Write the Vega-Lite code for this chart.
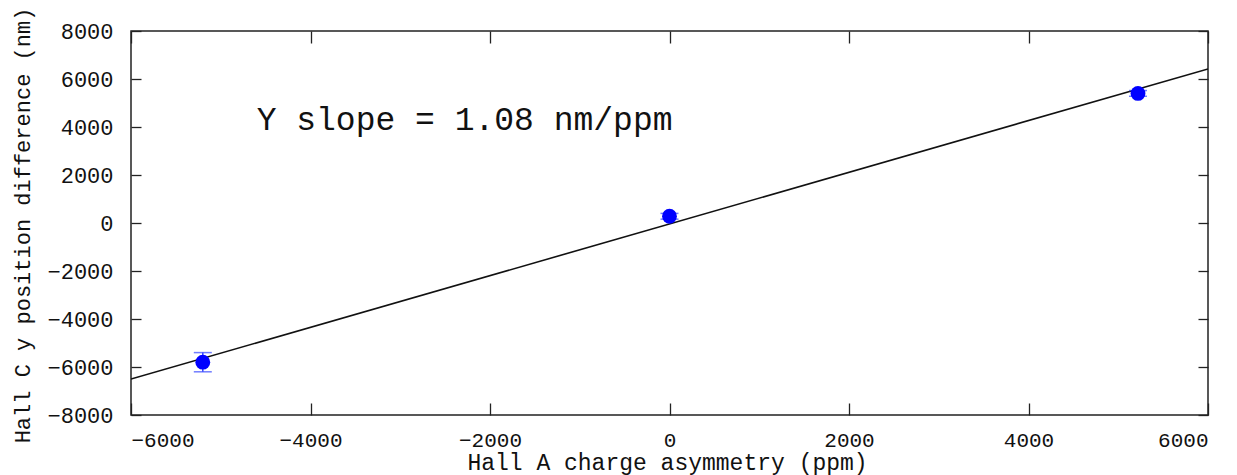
{
  "$schema": "https://vega.github.io/schema/vega-lite/v6.json",
  "width": 1077,
  "height": 384,
  "autosize": "none",
  "padding": {"left": 131, "top": 31, "right": 29, "bottom": 60},
  "background": "white",
  "config": {
    "font": "Liberation Mono",
    "view": {"stroke": "#222222", "strokeWidth": 1.5},
    "axis": {
      "grid": false,
      "domain": false,
      "tickColor": "#222222",
      "tickWidth": 1.3,
      "labelFont": "Liberation Mono",
      "labelFontSize": 22,
      "labelColor": "#111111",
      "titleFont": "Liberation Mono",
      "titleFontWeight": "normal",
      "titleColor": "#111111"
    }
  },
  "datasets": {
    "pts": [
      {"x": -5200, "y": -5800, "err": 400},
      {"x": 0, "y": 280, "err": 120},
      {"x": 5220, "y": 5400, "err": 120}
    ],
    "fit": [
      {"x": -6000, "y": -6500},
      {"x": 6000, "y": 6420}
    ],
    "note": [
      {"x": -4600, "y": 4300, "label": "Y slope = 1.08 nm/ppm"}
    ]
  },
  "layer": [
    {
      "data": {"name": "fit"},
      "mark": {"type": "line", "color": "#111111", "strokeWidth": 1.6, "clip": true},
      "encoding": {
        "x": {"field": "x", "type": "quantitative",
          "scale": {"domain": [-6000, 6000], "nice": false, "zero": false},
          "axis": {"orient": "bottom", "title": "Hall A charge asymmetry (ppm)", "titleFontSize": 23, "titleX": 536, "titleY": 47, "titleBaseline": "middle", "titleAlign": "center", "values": [-6000, -4000, -2000, 0, 2000, 4000, 6000], "format": "d", "tickSize": -12, "labelPadding": 26, "labelFontSize": 21}},
        "y": {"field": "y", "type": "quantitative",
          "scale": {"domain": [-8000, 8000], "nice": false, "zero": false},
          "axis": {"orient": "left", "title": "Hall C y position difference (nm)", "titleFontSize": 22, "titleX": -109, "titleY": 194, "titleAngle": -90, "titleBaseline": "middle", "titleAlign": "center", "values": [-8000, -6000, -4000, -2000, 0, 2000, 4000, 6000, 8000], "format": "d", "tickSize": -10, "labelPadding": 28}}
      }
    },
    {
      "data": {"name": "pts"},
      "transform": [{"calculate": "datum.y - datum.err", "as": "yl"}, {"calculate": "datum.y + datum.err", "as": "yh"}],
      "mark": {"type": "rule", "color": "#3344ff", "strokeWidth": 1.5},
      "encoding": {
        "x": {"field": "x", "type": "quantitative", "axis": {"orient": "top", "title": null, "labels": false, "values": [-6000, -4000, -2000, 0, 2000, 4000, 6000], "tickSize": -12}},
        "y": {"field": "yl", "type": "quantitative", "axis": {"orient": "right", "title": null, "labels": false, "values": [-8000, -6000, -4000, -2000, 0, 2000, 4000, 6000, 8000], "tickSize": -10}},
        "y2": {"field": "yh"}
      }
    },
    {
      "data": {"name": "pts"},
      "transform": [{"fold": ["lo", "hi"]}, {"calculate": "datum.key == 'lo' ? datum.y - datum.err : datum.y + datum.err", "as": "yc"}],
      "mark": {"type": "tick", "color": "#3344ff", "orient": "horizontal", "size": 18, "thickness": 1.5},
      "encoding": {
        "x": {"field": "x", "type": "quantitative", "axis": null},
        "y": {"field": "yc", "type": "quantitative", "axis": null}
      }
    },
    {
      "data": {"name": "pts"},
      "mark": {"type": "circle", "color": "#0000ff", "opacity": 1, "size": 220},
      "encoding": {
        "x": {"field": "x", "type": "quantitative", "axis": null},
        "y": {"field": "y", "type": "quantitative", "axis": null}
      }
    },
    {
      "data": {"name": "note"},
      "mark": {"type": "text", "align": "left", "baseline": "middle", "fontSize": 33, "font": "Liberation Mono", "color": "#111111"},
      "encoding": {
        "x": {"field": "x", "type": "quantitative", "axis": null},
        "y": {"field": "y", "type": "quantitative", "axis": null},
        "text": {"field": "label"}
      }
    }
  ],
  "resolve": {"axis": {"x": "independent", "y": "independent"}}
}
